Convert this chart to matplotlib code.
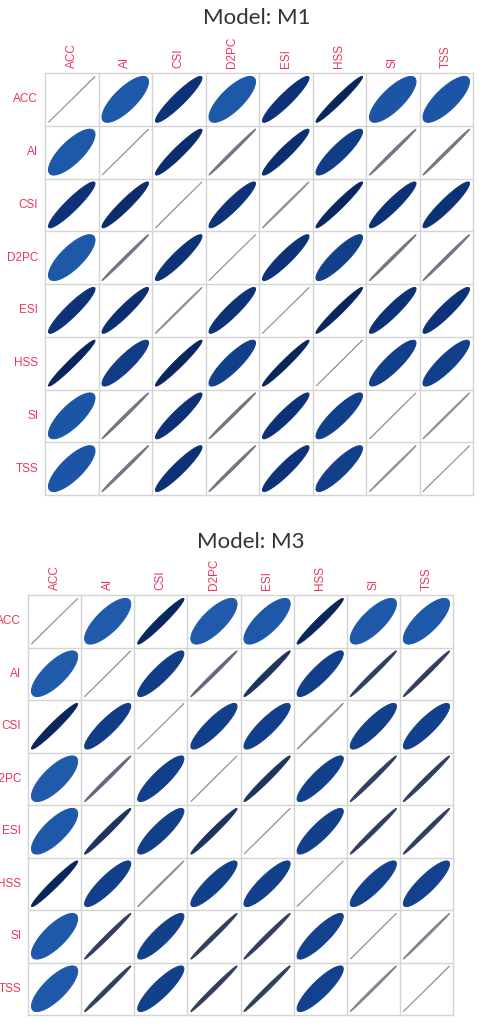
import numpy as np
import matplotlib
matplotlib.use("Agg")
import matplotlib.pyplot as plt
from matplotlib.colors import LinearSegmentedColormap
from matplotlib.patches import Polygon

metrics = ["ACC", "AI", "CSI", "D2PC", "ESI", "HSS", "SI", "TSS"]

# correlation matrices (rows/cols in metrics order)
m1_corr = [
    [1.000, 0.770, 0.930, 0.770, 0.930, 0.975, 0.780, 0.780],
    [0.770, 1.000, 0.950, 0.997, 0.945, 0.890, 0.997, 0.997],
    [0.930, 0.950, 1.000, 0.930, 0.999, 0.970, 0.935, 0.935],
    [0.770, 0.997, 0.930, 1.000, 0.930, 0.880, 0.997, 0.997],
    [0.930, 0.945, 0.999, 0.930, 1.000, 0.975, 0.935, 0.930],
    [0.975, 0.890, 0.970, 0.880, 0.975, 1.000, 0.880, 0.880],
    [0.780, 0.997, 0.935, 0.997, 0.935, 0.880, 1.000, 0.999],
    [0.780, 0.997, 0.935, 0.997, 0.930, 0.880, 0.999, 1.000],
]

m3_corr = [
    [1.000, 0.760, 0.970, 0.760, 0.770, 0.975, 0.770, 0.770],
    [0.760, 1.000, 0.890, 0.996, 0.985, 0.880, 0.993, 0.993],
    [0.970, 0.890, 1.000, 0.880, 0.880, 0.999, 0.875, 0.875],
    [0.760, 0.996, 0.880, 1.000, 0.985, 0.880, 0.993, 0.993],
    [0.770, 0.985, 0.880, 0.985, 1.000, 0.875, 0.993, 0.993],
    [0.975, 0.880, 0.999, 0.880, 0.875, 1.000, 0.870, 0.870],
    [0.770, 0.993, 0.875, 0.993, 0.993, 0.870, 1.000, 0.998],
    [0.770, 0.993, 0.875, 0.993, 0.993, 0.870, 0.998, 1.000],
]

panels = [
    ("Model: M1", m1_corr, [45 / 494, 1 - 495 / 1026, 428 / 494, 422 / 1026], (257, 18)),
    ("Model: M3", m3_corr, [28 / 494, 1 - 1015 / 1026, 425 / 494, 420 / 1026], (251, 542)),
]

r_lo, r_hi = 0.75, 1.0
stops = [0.75, 0.88, 0.94, 0.975, 0.993, 1.0]
cols = ["#205cae", "#123f8a", "#0c3074", "#08255c", "#2f3d5e", "#a0a0a0"]
cmap = LinearSegmentedColormap.from_list(
    "corr", [((s - r_lo) / (r_hi - r_lo), c) for s, c in zip(stops, cols)]
)

label_color = "#e8365a"
grid_color = "#d4d4d4"

fig = plt.figure(figsize=(4.94, 10.26), dpi=100)

t = np.linspace(0, 2 * np.pi, 120)
scale = 0.435

for title, corr, pos, (tx, ty) in panels:
    corr = np.asarray(corr)
    n = len(metrics)
    ax = fig.add_axes(pos)
    ax.set_xlim(0, n)
    ax.set_ylim(n, 0)
    ax.set_axis_off()

    for i in range(n):
        for j in range(n):
            r = corr[i, j]
            d = np.arccos(np.clip(r, -1, 1))
            ex = np.cos(t + d / 2)
            ey = np.cos(t - d / 2)
            pts = np.column_stack([j + 0.5 + scale * ex, i + 0.5 - scale * ey])
            c = cmap((min(r, r_hi) - r_lo) / (r_hi - r_lo))
            ax.add_patch(Polygon(pts, closed=True, facecolor=c, edgecolor=c, lw=0.7))

    for k in range(n + 1):
        ax.plot([k, k], [0, n], color=grid_color, lw=1.0, clip_on=False)
        ax.plot([0, n], [k, k], color=grid_color, lw=1.0, clip_on=False)

    for k, name in enumerate(metrics):
        ax.text(k + 0.5, -0.1, name, rotation=90, ha="center", va="bottom",
                color=label_color, fontsize=8.5, family="Liberation Sans")
        ax.text(-0.13, k + 0.5, name, ha="right", va="center",
                color=label_color, fontsize=8.5, family="Liberation Sans")

    fig.text(tx / 494, 1 - ty / 1026, title, ha="center", va="center",
             fontsize=16, color="#333333", family="Lato")

fig.savefig("out.png", dpi=100)
